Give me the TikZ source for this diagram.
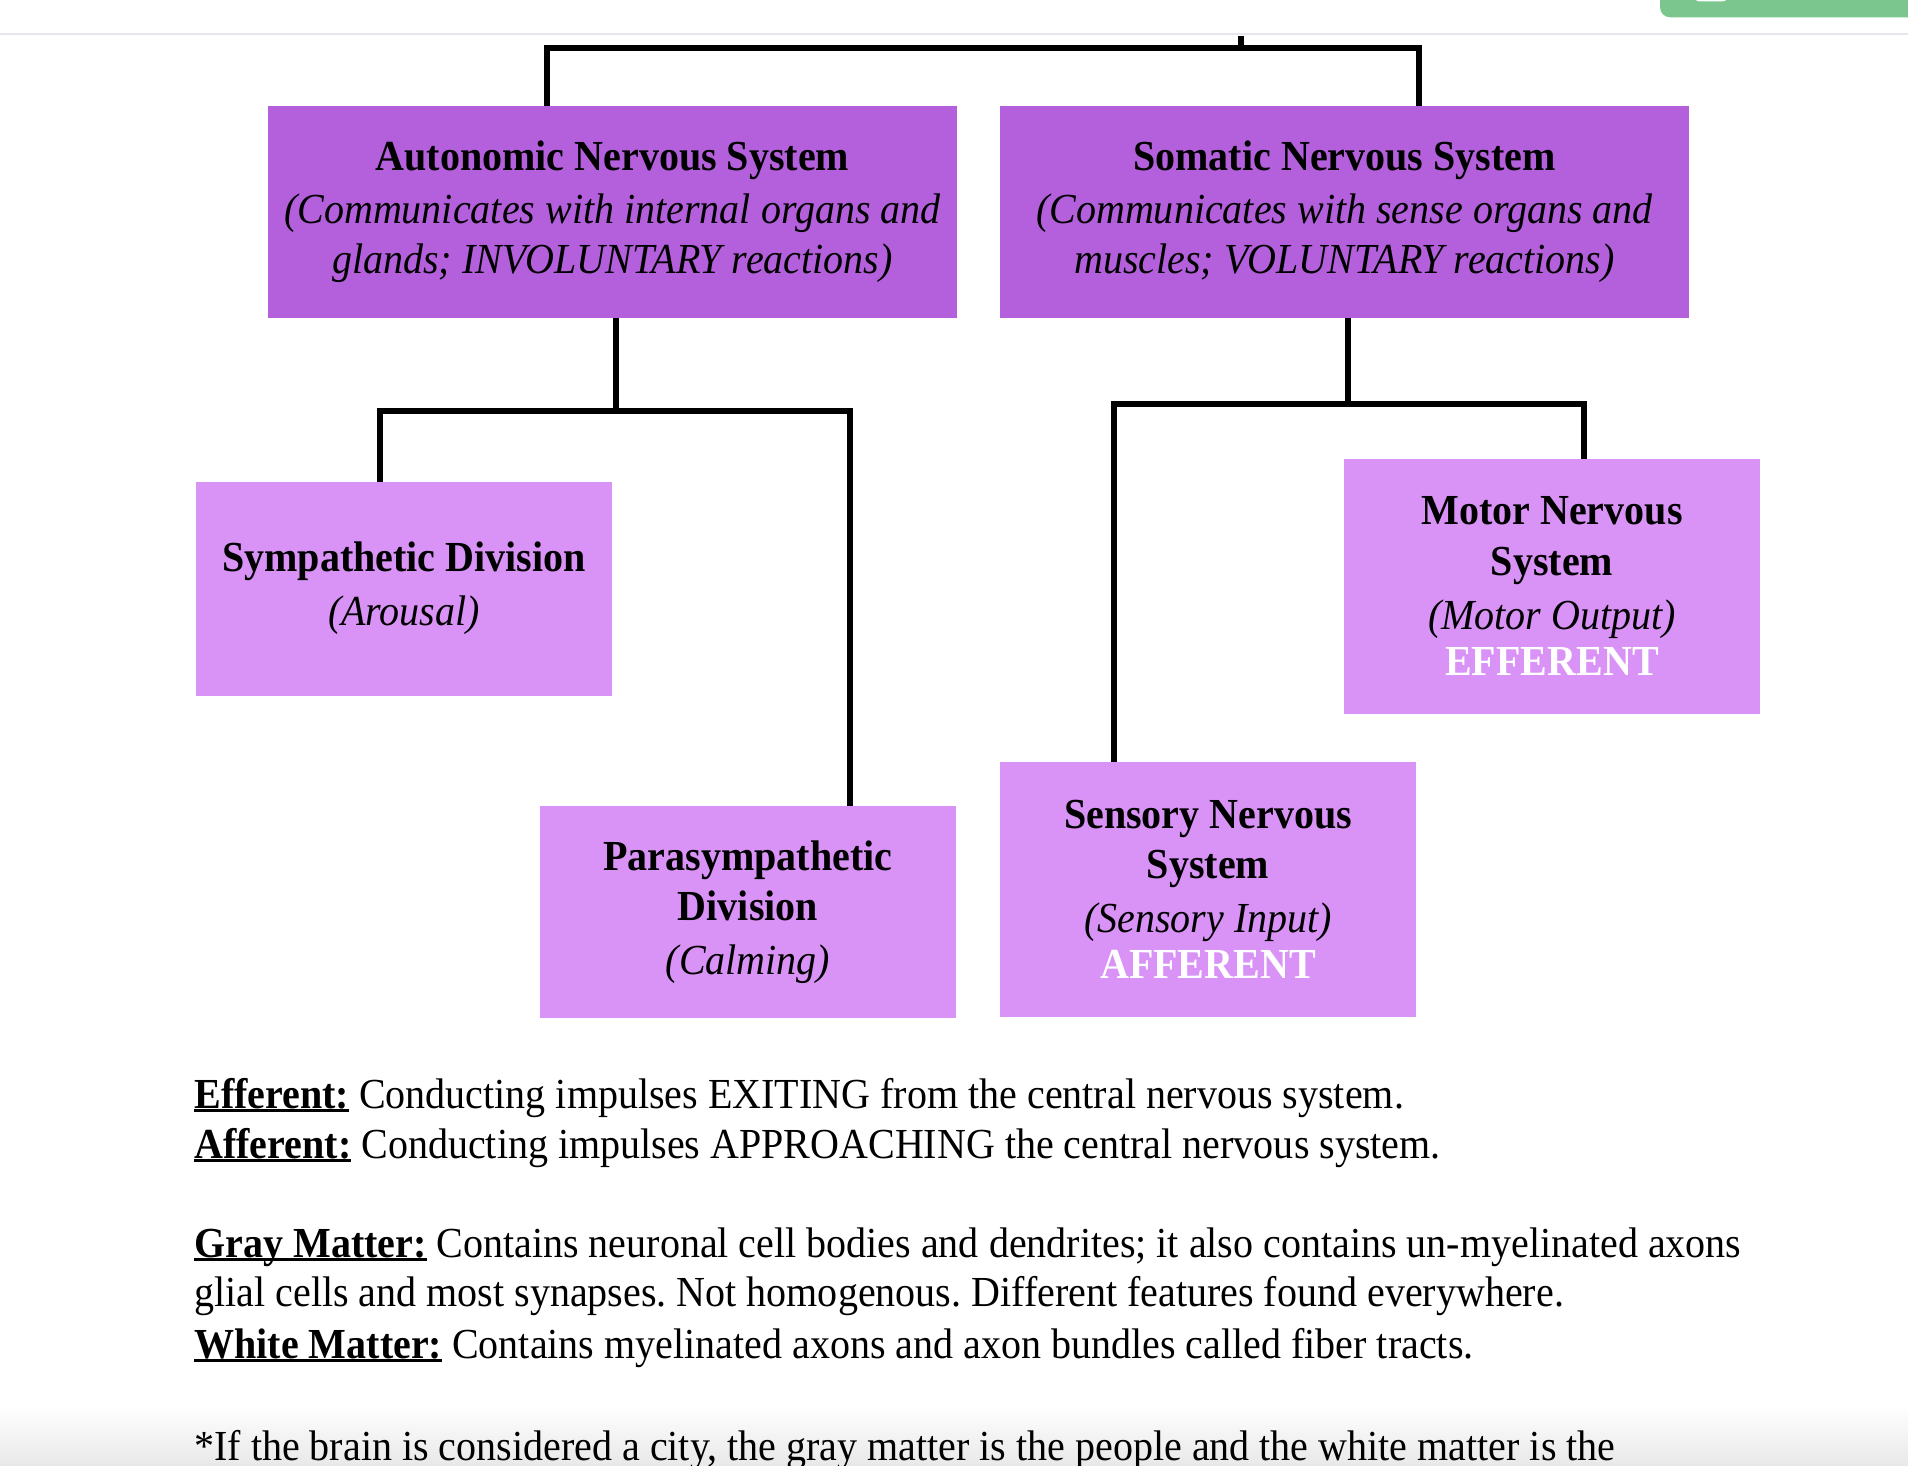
\documentclass[tikz,border=0pt]{standalone}
\usepackage{fontspec}
\setmainfont{Liberation Serif}[FakeStretch=0.935]
\usetikzlibrary{positioning}
\definecolor{ansfill}{HTML}{B460DC}
\definecolor{subfill}{HTML}{D992F6}
\definecolor{rulegray}{HTML}{E6E6EC}
\definecolor{btngreen}{HTML}{7BC68E}
\frenchspacing
\newsavebox{\termbox}
\newcommand{\keyterm}[1]{\sbox{\termbox}{\bfseries #1}\rlap{\rule[-1.9pt]{\wd\termbox}{1.4pt}}\usebox{\termbox}}

\begin{document}
\begin{tikzpicture}[x=0.5pt,y=-0.5pt,
  font=\fontsize{21.4pt}{25.3pt}\selectfont,
  mainbox/.style={fill=ansfill, minimum width=344.5pt, minimum height=106pt, inner sep=0pt, outer sep=0pt, align=center},
  subbox/.style={fill=subfill, minimum width=208pt, inner sep=0pt, outer sep=0pt, align=center},
  link/.style={line width=3pt},
  textline/.style={anchor=base west, inner sep=0pt}]
\useasboundingbox (0,0) rectangle (1908,1466);

% page furniture
\draw[rulegray, line width=1pt] (0,34.3) -- (1908,34.3);
\fill[btngreen, rounded corners=5pt] (1660,-20) rectangle (1930,17.3);
\fill[white, rounded corners=2pt] (1695,-10) rectangle (1727,1.5);
\shade[top color=white, bottom color=black!9] (0,1405) rectangle (1908,1466);

% boxes
\node[mainbox] (ans) at (612.5,212) {\textbf{Autonomic Nervous System}\\[1pt]\textit{(Communicates with internal organs and}\\\textit{glands; INVOLUNTARY reactions)}};
\node[mainbox, right=21.5pt of ans] (sns) {\textbf{Somatic Nervous System}\\[1pt]\textit{(Communicates with sense organs and}\\\textit{muscles; VOLUNTARY reactions)}};
\node[subbox, minimum height=107pt] (symp) at (404,588.5) {\textbf{Sympathetic Division}\\[1.5pt]\textit{(Arousal)}};
\node[subbox, minimum height=106pt] (para) at (748,912) {\textbf{Parasympathetic}\\\textbf{Division}\\[1.5pt]\textit{(Calming)}};
\node[subbox, minimum height=127.5pt] (motor) at (1552,586.3) {\textbf{Motor Nervous}\\\textbf{System}\\[1.5pt]\textit{(Motor Output)}\\[-2pt]\textcolor{white}{\textbf{EFFERENT}}};
\node[subbox, minimum height=127.5pt] (sens) at (1208,889.3) {\textbf{Sensory Nervous}\\\textbf{System}\\[1.5pt]\textit{(Sensory Input)}\\[-2pt]\textcolor{white}{\textbf{AFFERENT}}};

% connectors
\coordinate (root) at (1240.8,36);
\coordinate (rootbar) at (1240.8,48.5);
\draw[link] (root) -- (rootbar);
\draw[link] (547,0 |- ans.north) |- (rootbar) -| (1419,0 |- sns.north);

\coordinate (ansfork) at (616,411.5);
\draw[link] (616,0 |- ans.south) -- (ansfork);
\draw[link] (379.6,0 |- symp.north) |- (ansfork) -| (849.5,0 |- para.north);

\coordinate (snsfork) at (1348,404.5);
\draw[link] (1348,0 |- sns.south) -- (snsfork);
\draw[link] (1113.7,0 |- sens.north) |- (snsfork) -| (1583.5,0 |- motor.north);

% notes
\node[textline] (eff) at (194,1108) {\keyterm{Efferent:} Conducting impulses EXITING from the central nervous system.};
\node[textline] (aff) at (194,1158) {\keyterm{Afferent:} Conducting impulses APPROACHING the central nervous system.};
\node[textline] (gray) at (194,1257) {\keyterm{Gray Matter:} Contains neuronal cell bodies and dendrites; it also contains un-myelinated axons};
\node[textline] (gray2) at (194,1306) {glial cells and most synapses. Not homogenous. Different features found everywhere.};
\node[textline] (white) at (194,1358) {\keyterm{White Matter:} Contains myelinated axons and axon bundles called fiber tracts.};
\node[textline] (city) at (194,1460) {*If the brain is considered a city, the gray matter is the people and the white matter is the};
\end{tikzpicture}
\end{document}
